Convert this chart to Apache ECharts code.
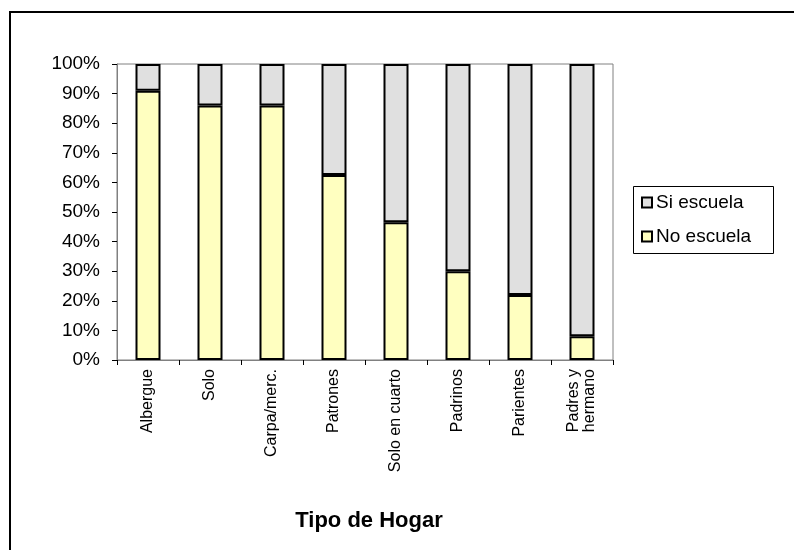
<!DOCTYPE html>
<html>
<head>
<meta charset="utf-8">
<script src="https://cdn.jsdelivr.net/npm/echarts@6/dist/echarts.min.js"></script>
<style>
  html, body { margin: 0; padding: 0; background: #fff; }
  #chart { width: 794px; height: 550px; }
</style>
</head>
<body>
<div id="chart"></div>
<script>
const FONT = '"Liberation Sans", Arial, Helvetica, sans-serif';

const categories = ['Albergue', 'Solo', 'Carpa/merc.', 'Patrones', 'Solo en cuarto', 'Padrinos', 'Parientes', 'Padres y\nhermano'];
const noEscuela = [91, 86, 86, 62.5, 46.5, 30, 22, 8];
const siEscuela = [9, 14, 14, 37.5, 53.5, 70, 78, 92];
const yTicks = [0, 10, 20, 30, 40, 50, 60, 70, 80, 90, 100];

const chart = echarts.init(document.getElementById('chart'), null, { renderer: 'canvas' });

chart.setOption({
    animation: false,
    backgroundColor: '#ffffff',
    grid: {
        left: 117,
        right: 181,
        top: 64,
        bottom: 190,
        show: true,
        borderColor: '#808080',
        borderWidth: 1,
        backgroundColor: 'transparent',
    },
    legend: {
        orient: 'vertical',
        left: 641,
        top: 193,
        data: ['Si escuela', 'No escuela'],
        icon: 'rect',
        itemWidth: 10,
        itemHeight: 10,
        itemGap: 15,
        padding: 0,
        textStyle: { fontFamily: FONT, fontSize: 19, color: '#000', padding: [0, 0, 0, -1] },
    },
    xAxis: {
        type: 'category',
        data: categories,
        boundaryGap: true,
        axisLine: { lineStyle: { color: '#808080', width: 1 } },
        axisTick: { show: true, length: 5, interval: 0, lineStyle: { color: '#000' } },
        axisLabel: {
            interval: 0,
            rotate: 90,
            margin: 9,
            fontFamily: FONT,
            fontSize: 16,
            lineHeight: 16,
            color: '#000',
        },
        splitLine: { show: false },
    },
    yAxis: {
        type: 'value',
        min: yTicks[0],
        max: yTicks[yTicks.length - 1],
        interval: 10,
        axisLine: { show: true, lineStyle: { color: '#808080', width: 1 } },
        axisTick: { show: true, length: 5, lineStyle: { color: '#000' } },
        axisLabel: {
            formatter: '{value}%',
            margin: 17,
            fontFamily: FONT,
            fontSize: 19,
            color: '#000',
        },
        splitLine: { show: false },
    },
    series: [
        {
            name: 'No escuela',
            type: 'bar',
            stack: 'total',
            barWidth: 25,
            data: noEscuela,
            itemStyle: { color: '#ffffc0', borderColor: '#000', borderWidth: 2 },
        },
        {
            name: 'Si escuela',
            type: 'bar',
            stack: 'total',
            barWidth: 25,
            data: siEscuela,
            itemStyle: { color: '#e0e0e0', borderColor: '#000', borderWidth: 2 },
        },
    ],
    graphic: [
        {
            type: 'rect',
            silent: true,
            z: -1,
            shape: { x: 10, y: 12, width: 820, height: 600 },
            style: { fill: 'none', stroke: '#000', lineWidth: 2 },
        },
        {
            type: 'rect',
            silent: true,
            shape: { x: 633.5, y: 186.5, width: 140, height: 67 },
            style: { fill: 'none', stroke: '#000', lineWidth: 1 },
        },
        {
            type: 'text',
            silent: true,
            x: 369,
            y: 521,
            style: {
                text: 'Tipo de Hogar',
                fontFamily: FONT,
                fontSize: 22,
                fontWeight: 'bold',
                fill: '#000',
                align: 'center',
                verticalAlign: 'middle',
            },
        },
    ],
});
</script>
</body>
</html>
